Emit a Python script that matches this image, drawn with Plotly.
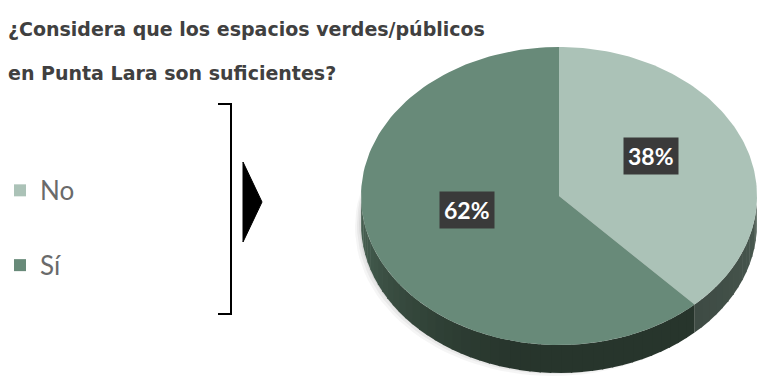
import numpy as np
import plotly.graph_objects as go

categories = ["No", "Sí"]
values = [38, 62]
labels = ["38%", "62%"]
top_colors = ["#abc2b7", "#688a79"]
side_dark = ["#3e4b44", "#27352c"]
side_light = ["#4a5a51", "#4b6556"]

title_lines = ["¿Considera que los espacios verdes/públicos", "en Punta Lara son suficientes?"]

W, H = 758, 378
cx, cy, rx, ry, depth = 559, 196, 198, 149, 28

def pt(theta_deg, dy=0.0, r=1.0):
    t = np.radians(theta_deg)
    return cx + r * rx * np.sin(t), cy - r * ry * np.cos(t) + dy

def hex2rgb(h):
    return np.array([int(h[k:k + 2], 16) for k in (1, 3, 5)])

fig = go.Figure()

total = sum(values)
bounds = np.concatenate([[0], np.cumsum(values) / total * 360.0])

# soft shadow
for k, a in enumerate([0.04, 0.05, 0.06]):
    th = np.linspace(0, 360, 121)
    xs, ys = pt(th, dy=depth + 3 - k * 2)
    xs = xs - 6 + k * 2
    fig.add_trace(go.Scatter(x=xs, y=ys, fill="toself", mode="lines", line=dict(width=0),
                             fillcolor=f"rgba(0,0,0,{a})", hoverinfo="skip", showlegend=False))

# sides (front half: theta 90..270)
for i, cat in enumerate(categories):
    a0, a1 = max(bounds[i], 90), min(bounds[i + 1], 270)
    if a1 <= a0:
        continue
    nseg = max(2, int((a1 - a0) / 3))
    edges = np.linspace(a0, a1, nseg + 1)
    c0, c1 = hex2rgb(side_dark[i]), hex2rgb(side_light[i])
    for j in range(nseg):
        s0, s1 = edges[j], edges[j + 1]
        mid = (s0 + s1) / 2
        if i == 1:
            f = float(np.clip((mid - 190) / 80, 0, 1)) ** 1.3
        else:
            f = float(np.clip((a1 - mid) / (a1 - a0), 0, 1))
        c = (c0 + (c1 - c0) * f).astype(int)
        th = np.linspace(s0, min(s1 + 0.4, a1 if j == nseg - 1 else s1 + 0.4), 6)
        xt, yt = pt(th)
        xb, yb = pt(th[::-1], dy=depth)
        fig.add_trace(go.Scatter(x=np.concatenate([xt, xb]), y=np.concatenate([yt, yb]),
                                 fill="toself", mode="lines", line=dict(width=0),
                                 fillcolor=f"rgb({c[0]},{c[1]},{c[2]})",
                                 hoverinfo="skip", showlegend=False))

# top faces
for i, cat in enumerate(categories):
    th = np.linspace(bounds[i], bounds[i + 1], 120)
    xs, ys = pt(th)
    fig.add_trace(go.Scatter(x=np.concatenate([[cx], xs, [cx]]), y=np.concatenate([[cy], ys, [cy]]),
                             fill="toself", mode="lines", line=dict(width=0),
                             fillcolor=top_colors[i], name=cat, hoverinfo="name",
                             showlegend=False))
    mx, my = pt((bounds[i] + bounds[i + 1]) / 2, r=0.5)
    fig.add_annotation(x=mx, y=my, yshift=13, text=f"<b>{labels[i]}</b>", showarrow=False,
                       font=dict(family="Lato", size=23, color="white"),
                       bgcolor="#3a3a3a", borderpad=4)

# legend entries
for i, cat in enumerate(categories):
    fig.add_trace(go.Scatter(x=[None], y=[None], mode="markers", name=cat,
                             marker=dict(symbol="square", size=14, color=top_colors[i]),
                             legendgroup=cat))

# title
for k, line in enumerate(title_lines):
    fig.add_annotation(x=6, y=29 + 44 * k, xref="x", yref="y", text=f"<b>{line}</b>",
                       showarrow=False, xanchor="left", yanchor="middle",
                       font=dict(family="DejaVu Sans", size=19, color="#404040"))

# bracket and arrow
fig.add_shape(type="path", path="M 218 104 L 231 104 L 231 314 L 218 314",
              line=dict(color="black", width=2), xref="x", yref="y")
fig.add_shape(type="path", path="M 243 162 L 262 202 L 243 242 Z",
              fillcolor="black", line=dict(color="black", width=1), xref="x", yref="y")

fig.update_layout(
    width=W, height=H, margin=dict(l=0, r=0, t=0, b=0),
    paper_bgcolor="white", plot_bgcolor="white",
    xaxis=dict(range=[0, W], visible=False, fixedrange=True),
    yaxis=dict(range=[H, 0], visible=False, fixedrange=True),
    showlegend=True,
    legend=dict(x=0, y=0.397, xanchor="left", yanchor="middle",
                font=dict(family="Lato", size=26, color="#6a6a6a"),
                tracegroupgap=38, itemsizing="constant", bgcolor="rgba(0,0,0,0)"),
)

fig.write_html("out.html")
